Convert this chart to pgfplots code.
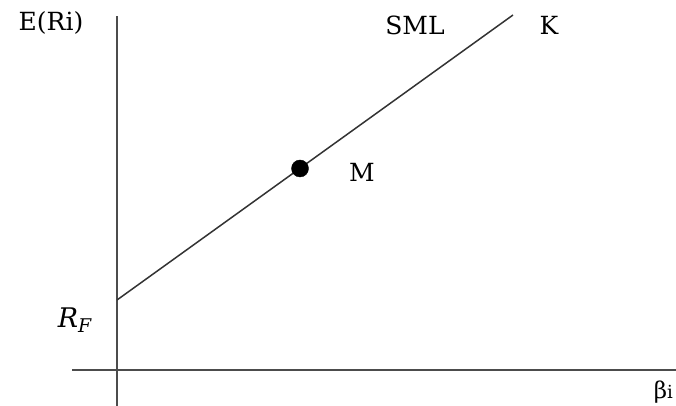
\documentclass[border=0pt]{standalone}
\usepackage{pgfplots}
\pgfplotsset{compat=1.18}
\usepackage{fontspec}
\setmainfont{DejaVu Serif}
\begin{document}
\begin{tikzpicture}
\begin{axis}[
  scale only axis, width=676pt, height=406pt,
  xmin=0, xmax=676, ymin=0, ymax=406,
  hide axis, clip=false,
]
% axes
\addplot[draw=black!70, line width=2.2pt] coordinates {(117,0) (117,390)};
\addplot[draw=black!70, line width=2.2pt] coordinates {(72,36) (676,36)};
% SML
\addplot[draw=black!80, line width=1.5pt] coordinates {(117,106) (513,391)};
% market portfolio
\addplot[only marks, mark=*, mark size=8.5pt, black] coordinates {(300,237.5)};
\node[font=\fontsize{25}{30}\selectfont] at (axis cs:51,383) {E(Ri)};
\node[font=\fontsize{25}{30}\selectfont] at (axis cs:415,381) {SML};
\node[font=\fontsize{25}{30}\selectfont] at (axis cs:549,381) {K};
\node[font=\fontsize{25}{30}\selectfont] at (axis cs:362,234) {M};
\node[font=\fontsize{27}{30}\selectfont] at (axis cs:75,86) {\textit{R}\textsubscript{\textit{F}}};
\node[font=\fontsize{23}{28}\selectfont, anchor=east, inner sep=1pt] at (axis cs:674,14) {β{\fontsize{18}{20}\selectfont i}};
\end{axis}
\pgfresetboundingbox
\useasboundingbox (0,0) rectangle (676pt,406pt);
\end{tikzpicture}
\end{document}
